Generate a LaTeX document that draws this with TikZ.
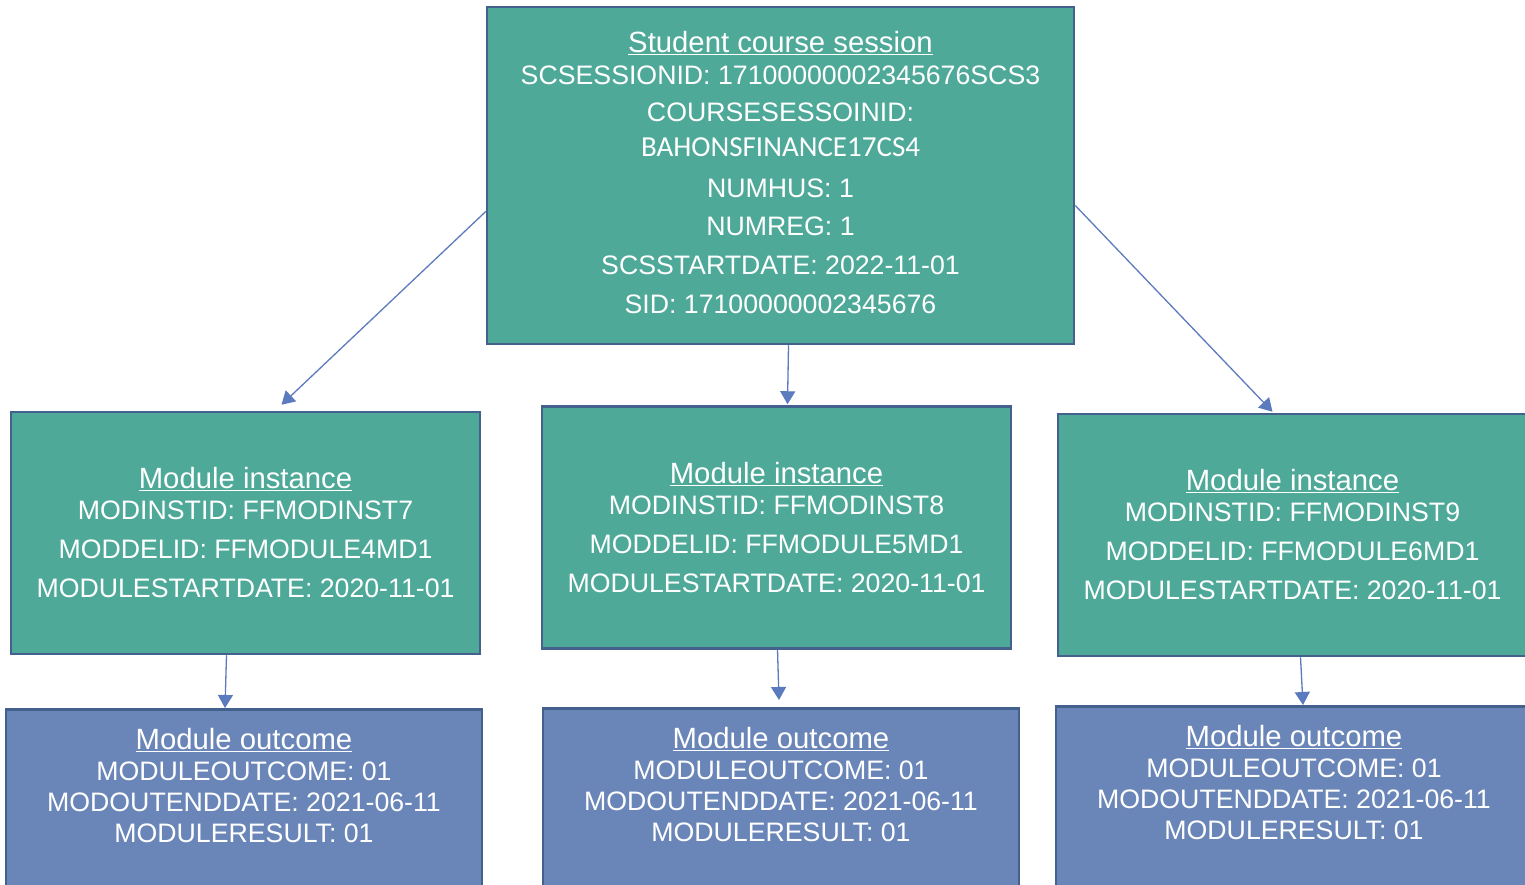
\documentclass[tikz,border=0pt]{standalone}
\usepackage{fontspec}
\setmainfont{Liberation Sans}
\newfontfamily\calfont{Carlito}
\usetikzlibrary{arrows.meta}

\definecolor{tealbox}{RGB}{78,169,153}
\definecolor{bluebox}{RGB}{106,134,184}
\definecolor{boxline}{RGB}{68,96,140}
\definecolor{linkline}{RGB}{92,122,190}

\newcommand\boxtitle[1]{{\fontsize{29.3}{31}\selectfont\underline{#1}}}

\tikzset{
  record/.style={draw=boxline, line width=2.5pt, text=white, align=center, inner sep=0pt,
    font=\fontsize{26.7}{31}\selectfont},
  session/.style={record, fill=tealbox, minimum width=587pt, minimum height=337pt, text depth=6pt},
  instance/.style={record, fill=tealbox, minimum width=469pt, minimum height=242pt},
  outcome/.style={record, fill=bluebox, minimum width=476pt, anchor=north, inner ysep=19pt, text depth=150pt},
  link/.style={draw=linkline, line width=1.3pt, -{Triangle[width=15pt,length=13pt]}}
}

\begin{document}
\begin{tikzpicture}[x=1pt, y=-1pt]
  \clip (0,0) rectangle (1525,885);

  \node (scs) [session] at (780.5,175.5) {\boxtitle{Student course session}\\[1pt]
    SCSESSIONID: 17100000002345676SCS3\\[6pt]
    COURSESESSOINID:\\[4pt]
    {\calfont\fontsize{29}{31}\selectfont BAHONSFINANCE17CS4}\\[10pt]
    NUMHUS: 1\\[7pt]
    NUMREG: 1\\[8pt]
    SCSSTARTDATE: 2022-11-01\\[8pt]
    SID: 17100000002345676};

  \node (inst7) [instance] at (245.5,533) {\boxtitle{Module instance}\\[0pt]
    MODINSTID: FFMODINST7\\[8pt] MODDELID: FFMODULE4MD1\\[8pt] MODULESTARTDATE: 2020-11-01};
  \node (inst8) [instance] at (776.5,527.5) {\boxtitle{Module instance}\\[0pt]
    MODINSTID: FFMODINST8\\[8pt] MODDELID: FFMODULE5MD1\\[8pt] MODULESTARTDATE: 2020-11-01};
  \node (inst9) [instance] at (1292.5,535) {\boxtitle{Module instance}\\[0pt]
    MODINSTID: FFMODINST9\\[8pt] MODDELID: FFMODULE6MD1\\[8pt] MODULESTARTDATE: 2020-11-01};

  \node (out7) [outcome] at (244,708) {\boxtitle{Module outcome}\\
    MODULEOUTCOME: 01\\ MODOUTENDDATE: 2021-06-11\\ MODULERESULT: 01};
  \node (out8) [outcome] at (781,707) {\boxtitle{Module outcome}\\
    MODULEOUTCOME: 01\\ MODOUTENDDATE: 2021-06-11\\ MODULERESULT: 01};
  \node (out9) [outcome] at (1294,705) {\boxtitle{Module outcome}\\
    MODULEOUTCOME: 01\\ MODOUTENDDATE: 2021-06-11\\ MODULERESULT: 01};

  % session to instances
  \draw[link] ([yshift=-36pt]scs.west) -- ([xshift=36pt,yshift=6pt]inst7.north);
  \draw[link] ([xshift=8pt]scs.south) -- ([xshift=11pt,yshift=1pt]inst8.north);
  \draw[link] ([yshift=-30pt]scs.east) -- ([xshift=-20pt,yshift=1pt]inst9.north);

  % instances to outcomes
  \draw[link] ([xshift=-19pt]inst7.south) -- ([xshift=-19pt]out7.north);
  \draw[link] ([xshift=1pt]inst8.south) -- ([xshift=-2pt,yshift=7pt]out8.north);
  \draw[link] ([xshift=8pt]inst9.south) -- ([xshift=9pt]out9.north);
\end{tikzpicture}
\end{document}
